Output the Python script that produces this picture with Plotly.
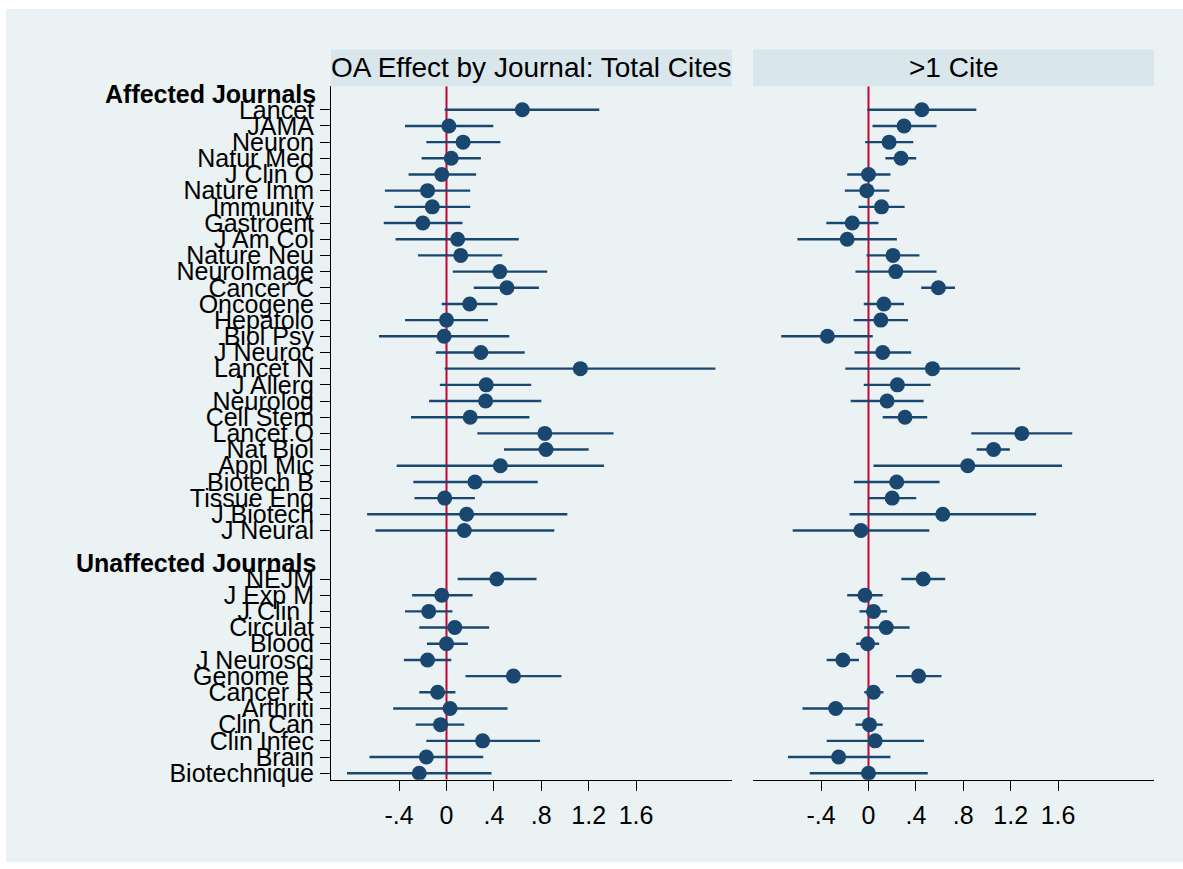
import plotly.graph_objects as go

# ---------------- data ----------------
affected = ["Lancet", "JAMA", "Neuron", "Natur Med", "J Clin O", "Nature Imm", "Immunity",
            "Gastroent", "J Am Col", "Nature Neu", "NeuroImage", "Cancer C", "Oncogene",
            "Hepatolo", "Biol Psy", "J Neuroc", "Lancet N", "J Allerg", "Neurolog",
            "Cell Stem", "Lancet O", "Nat Biol", "Appl Mic", "Biotech B", "Tissue Eng",
            "J Biotech", "J Neural"]
unaffected = ["NEJM", "J Exp M", "J Clin I", "Circulat", "Blood", "J Neurosci", "Genome R",
              "Cancer R", "Arthriti", "Clin Can", "Clin Infec", "Brain", "Biotechnique"]
group_labels = ["Affected Journals", "Unaffected Journals"]

# Panel 1: Total cites (estimate, lower CI, upper CI)
total_est = [0.64, 0.02, 0.14, 0.04, -0.04, -0.16, -0.12, -0.20, 0.094, 0.12, 0.45, 0.51, 0.196,
             0.0, -0.02, 0.29, 1.13, 0.335, 0.33, 0.20, 0.83, 0.84, 0.455, 0.24, -0.015, 0.17, 0.15,
             0.425, -0.04, -0.15, 0.07, 0.0, -0.16, 0.565, -0.075, 0.03, -0.05, 0.305, -0.17, -0.23]
total_lo = [-0.015, -0.35, -0.17, -0.21, -0.32, -0.52, -0.44, -0.53, -0.43, -0.24, 0.053, 0.23, -0.04,
            -0.35, -0.57, -0.09, -0.015, -0.056, -0.147, -0.30, 0.26, 0.485, -0.42, -0.28, -0.27, -0.67, -0.60,
            0.094, -0.29, -0.35, -0.23, -0.165, -0.36, 0.16, -0.23, -0.45, -0.26, -0.17, -0.65, -0.84]
total_hi = [1.29, 0.395, 0.455, 0.29, 0.25, 0.20, 0.20, 0.135, 0.61, 0.47, 0.85, 0.78, 0.43,
            0.35, 0.53, 0.66, 2.27, 0.715, 0.80, 0.70, 1.41, 1.20, 1.33, 0.77, 0.24, 1.02, 0.91,
            0.76, 0.22, 0.05, 0.36, 0.18, 0.04, 0.97, 0.075, 0.515, 0.15, 0.79, 0.31, 0.38]

# Panel 2: >1 cite
cite_est = [0.45, 0.30, 0.174, 0.275, 0.0, -0.014, 0.11, -0.137, -0.18, 0.207, 0.23, 0.59, 0.13,
            0.104, -0.347, 0.12, 0.54, 0.244, 0.157, 0.308, 1.294, 1.056, 0.838, 0.238, 0.20, 0.627, -0.064,
            0.462, -0.03, 0.042, 0.15, -0.008, -0.216, 0.423, 0.042, -0.277, 0.008, 0.056, -0.252, 0.0]
cite_lo = [-0.01, 0.034, -0.028, 0.143, -0.18, -0.20, -0.084, -0.356, -0.60, -0.017, -0.11, 0.445, -0.04,
           -0.126, -0.737, -0.118, -0.196, -0.04, -0.15, 0.12, 0.868, 0.913, 0.042, -0.123, -0.003, -0.16, -0.64,
           0.277, -0.18, -0.076, -0.036, -0.104, -0.353, 0.232, -0.036, -0.557, -0.11, -0.353, -0.68, -0.496]
cite_hi = [0.91, 0.574, 0.378, 0.403, 0.185, 0.176, 0.305, 0.084, 0.24, 0.43, 0.574, 0.73, 0.30,
           0.333, 0.036, 0.36, 1.28, 0.524, 0.465, 0.496, 1.72, 1.193, 1.633, 0.60, 0.403, 1.415, 0.513,
           0.647, 0.12, 0.157, 0.347, 0.09, -0.081, 0.616, 0.126, 0.0, 0.12, 0.468, 0.185, 0.50]

panel_titles = ["OA Effect by Journal: Total Cites", ">1 Cite"]
x_tickvals = [-0.4, 0, 0.4, 0.8, 1.2, 1.6]
x_ticktext = ["-.4", "0", ".4", ".8", "1.2", "1.6"]
ref_value = 0

# ---------------- layout constants ----------------
W, H = 1183, 869
NAVY = "#1a476f"
RED = "#c10534"
BG = "#eaf2f3"
STRIP = "#d9e6eb"
GRID = "#eaf2f3"
FONT = "Liberation Sans, Arial, sans-serif"

# row positions: affected rows 1..27, header at 0; unaffected header at 29, rows 30..42
journals = affected + unaffected
rows = list(range(1, len(affected) + 1)) + list(range(len(affected) + 3, len(affected) + 3 + len(unaffected)))
header_rows = [0, len(affected) + 2]

def px(x):
    return x / W

def py(y):
    return 1 - y / H

dom1 = [px(331), px(732)]
dom2 = [px(753), px(1154)]
ydom = [py(786), py(87)]

xr = [-0.975, 2.41]
yr = [42.4, -0.45]

fig = go.Figure()

for i, (est, lo, hi) in enumerate([(total_est, total_lo, total_hi), (cite_est, cite_lo, cite_hi)]):
    xa = "x" if i == 0 else "x2"
    ya = "y" if i == 0 else "y2"
    # vertical reference line at zero (drawn above grid, below data)
    fig.add_trace(go.Scatter(
        x=[ref_value, ref_value], y=yr, mode="lines", xaxis=xa, yaxis=ya,
        line=dict(color=RED, width=2), showlegend=False, hoverinfo="skip", cliponaxis=True))
    fig.add_trace(go.Scatter(
        x=est, y=rows, mode="markers", xaxis=xa, yaxis=ya,
        marker=dict(color=NAVY, size=15, line=dict(width=0)),
        error_x=dict(type="data", symmetric=False,
                     array=[h - e for h, e in zip(hi, est)],
                     arrayminus=[e - l for e, l in zip(est, lo)],
                     color=NAVY, thickness=2.4, width=0),
        showlegend=False, hoverinfo="skip"))

common_x = dict(range=xr, tickvals=x_tickvals, ticktext=x_ticktext, showgrid=False,
                zeroline=False, showline=True, linecolor="black", linewidth=1,
                ticks="outside", ticklen=10, tickcolor="black", tickwidth=1,
                tickfont=dict(family=FONT, size=25, color="black"), ticklabelstandoff=3)

fig.update_layout(
    width=W, height=H,
    margin=dict(l=0, r=0, t=0, b=0),
    paper_bgcolor="white",
    plot_bgcolor="white",
    font=dict(family=FONT, color="black"),
    xaxis=dict(domain=dom1, anchor="y", **common_x),
    xaxis2=dict(domain=dom2, anchor="y2", **common_x),
    yaxis=dict(domain=ydom, anchor="x", range=yr, tickvals=rows, ticktext=journals,
               showgrid=True, gridcolor=GRID, gridwidth=2, zeroline=False,
               showline=True, linecolor="black", linewidth=1,
               ticks="outside", ticklen=10, tickcolor="black",
               tickfont=dict(family=FONT, size=25, color="black"), ticklabelstandoff=1),
    yaxis2=dict(domain=ydom, anchor="x2", range=yr, tickvals=rows, showticklabels=False,
                showgrid=True, gridcolor=GRID, gridwidth=2, zeroline=False,
                showline=False, ticks=""),
)

shapes = [
    # outer graph region background
    dict(type="rect", xref="paper", yref="paper", x0=px(6), x1=1.0, y0=0, y1=py(9),
         fillcolor=BG, line=dict(width=0), layer="below"),
    # title strips
    dict(type="rect", xref="paper", yref="paper", x0=dom1[0], x1=dom1[1], y0=py(87), y1=py(50),
         fillcolor=STRIP, line=dict(width=0), layer="below"),
    dict(type="rect", xref="paper", yref="paper", x0=dom2[0], x1=dom2[1], y0=py(87), y1=py(50),
         fillcolor=STRIP, line=dict(width=0), layer="below"),
]
fig.update_layout(shapes=shapes)

annotations = []
for dom, t in zip([dom1, dom2], panel_titles):
    annotations.append(dict(text=t, xref="paper", yref="paper", x=(dom[0] + dom[1]) / 2,
                            y=py(68.5), xanchor="center", yanchor="middle", showarrow=False,
                            font=dict(family=FONT, size=28, color="black")))
for r, lab in zip(header_rows, group_labels):
    annotations.append(dict(text="<b>" + lab + "</b>", xref="paper", yref="y", x=px(318), y=r,
                            xanchor="right", yanchor="middle", showarrow=False,
                            font=dict(family=FONT, size=25, color="black")))
fig.update_layout(annotations=annotations)

fig.write_html("out.html")
